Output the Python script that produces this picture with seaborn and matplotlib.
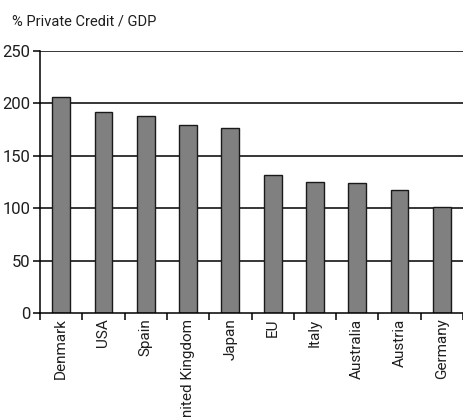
import matplotlib
matplotlib.use("Agg")
import matplotlib.pyplot as plt
import seaborn as sns
import pandas as pd
import numpy as np
from matplotlib.ticker import FixedLocator

countries = ["Denmark", "USA", "Spain", "United Kingdom", "Japan", "EU", "Italy",
             "Australia", "Austria", "Germany"]
values = [206, 192, 188, 179, 177, 132, 125, 124, 117, 101]
yticks = [0, 50, 100, 150, 200, 250]
title = "% Private Credit / GDP"

sns.set_theme(style="white")
plt.rcParams['font.family'] = ['Roboto', 'DejaVu Sans']
plt.rcParams['font.weight'] = 'normal'

df = pd.DataFrame({"country": countries, "value": values})

fig = plt.figure(figsize=(4.63, 4.17), dpi=100)
ax = fig.add_axes([40/463, 1-313/417, 423/463, (313-51)/417])

for y in yticks[1:]:
    ax.axhline(y, color="black", lw=1.1, zorder=0)

sns.barplot(data=df, x="country", y="value", color="#808080", width=0.42,
            edgecolor="#1a1a1a", linewidth=1.0, saturation=1, ax=ax, zorder=2)

ax.set_xlim(-0.5, len(countries) - 0.5)
ax.set_ylim(0, 250)
ax.set_yticks(yticks)
ax.set_xlabel("")
ax.set_ylabel("")
for s in ["top", "right"]:
    ax.spines[s].set_visible(False)
for s in ["left", "bottom"]:
    ax.spines[s].set_color("black")
    ax.spines[s].set_linewidth(1.1)

ax.set_xticks(range(len(countries)))
ax.set_xticklabels(countries, rotation=90, fontsize=11, color="#1e1e1e")
ax.tick_params(axis="x", which="major", length=0, pad=4)
ax.xaxis.set_minor_locator(FixedLocator(np.arange(-0.5, len(countries), 1.0)))
ax.tick_params(axis="x", which="minor", bottom=True, length=5, width=1.1, color="black", direction="out")
ax.tick_params(axis="y", left=True, length=5, width=1.1, color="black", direction="out",
               labelsize=12, labelcolor="#1e1e1e", pad=2)

fig.text(12/463, 1-21/417, title, fontsize=10.5, color="#1e1e1e", va="center", ha="left")

fig.savefig("out.png", dpi=100)
